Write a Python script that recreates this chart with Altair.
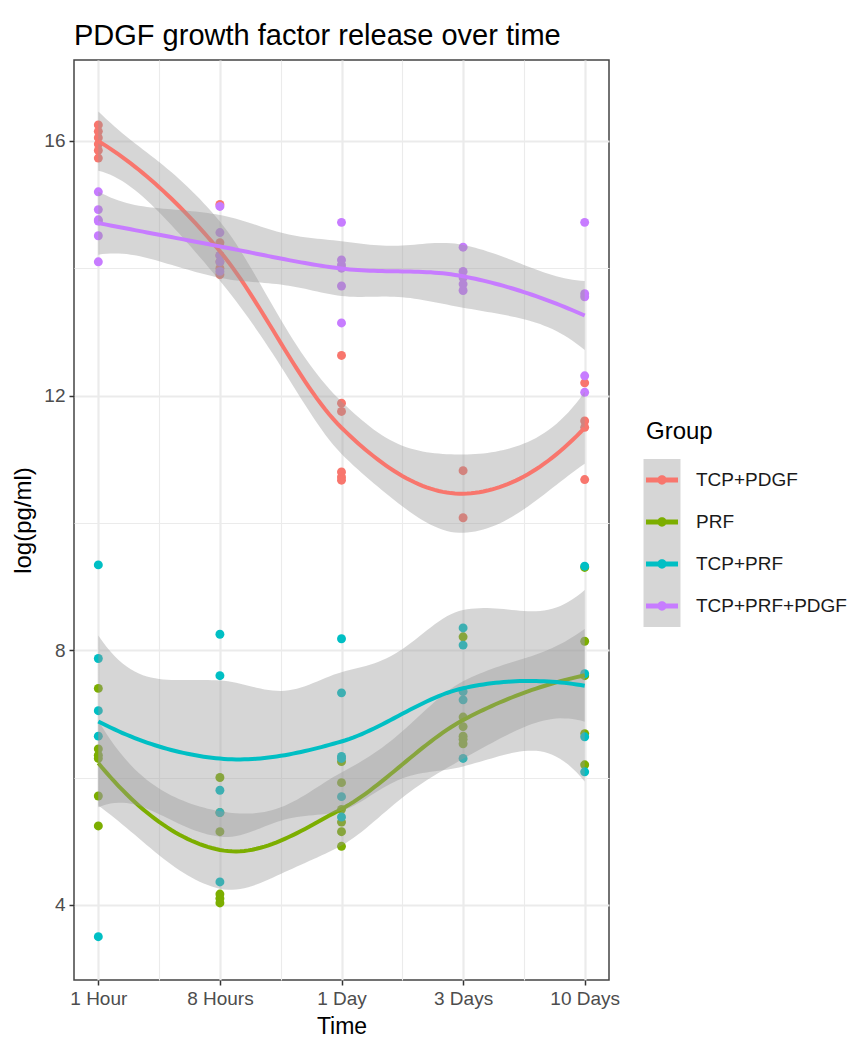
import numpy as np
import pandas as pd
import altair as alt

# ---------------- data ----------------
time_labels = ["1 Hour", "8 Hours", "1 Day", "3 Days", "10 Days"]
time_codes = [1, 2, 3, 4, 5]
groups = ["TCP+PDGF", "PRF", "TCP+PRF", "TCP+PRF+PDGF"]
key_ids = ["k1", "k2", "k3", "k4"]
colors = ["#F8766D", "#7CAE00", "#00BFC4", "#C77CFF"]

tcp_pdgf = [
    [16.25, 16.15, 16.05, 15.95, 15.85, 15.73],
    [15.0, 14.4, 14.2, 14.1, 14.0, 13.9],
    [12.63, 11.88, 11.75, 10.8, 10.72, 10.67],
    [10.82, 10.08],
    [12.2, 11.6, 11.5, 10.68],
]
prf = [
    [7.4, 6.45, 6.35, 6.3, 5.71, 5.24],
    [6.0, 5.45, 5.15, 4.17, 4.1, 4.03],
    [6.25, 5.92, 5.5, 5.3, 5.15, 4.92],
    [8.21, 6.95, 6.8, 6.65, 6.6, 6.53],
    [9.3, 8.14, 7.6, 6.69, 6.2],
]
tcp_prf = [
    [9.34, 7.87, 7.05, 6.65, 3.5],
    [8.25, 7.6, 5.8, 5.45, 4.36],
    [8.18, 7.33, 6.33, 6.3, 5.7, 5.38],
    [8.35, 8.08, 7.35, 7.22, 6.3],
    [9.32, 7.63, 6.64, 6.09],
]
tcp_prf_pdgf = [
    [15.2, 14.92, 14.76, 14.74, 14.51, 14.1],
    [14.97, 14.56, 14.2, 14.1, 13.95],
    [14.72, 14.13, 14.05, 14.0, 13.72, 13.14],
    [14.33, 13.95, 13.85, 13.75, 13.65],
    [14.72, 13.6, 13.55, 12.31, 12.05],
]
series = [tcp_pdgf, prf, tcp_prf, tcp_prf_pdgf]

FONT = "Liberation Sans"


# ---------------- loess smoother (degree 2, span 0.75) with 95% CI ----------------
def t975(df):
    z = 1.959964
    g1 = (z**3 + z) / 4
    g2 = (5 * z**5 + 16 * z**3 + 3 * z) / 96
    g3 = (3 * z**7 + 19 * z**5 + 17 * z**3 - 15 * z) / 384
    return z + g1 / df + g2 / df**2 + g3 / df**3


def loess_band(xv, yv, verts, grid, span=0.75):
    xv = np.asarray(xv, float)
    yv = np.asarray(yv, float)
    n = len(xv)
    q = int(np.floor(n * span))

    def lrows(x0):
        d = np.abs(xv - x0)
        h = max(np.sort(d)[q - 1], 1e-9) * 1.1
        w = np.clip(1 - (d / h) ** 3, 0, None) ** 3
        t = xv - x0
        X = np.column_stack([np.ones(n), t, t * t])
        A = X.T @ (w[:, None] * X)
        B = X.T * w
        coef = np.linalg.pinv(A) @ B
        return coef[0], coef[1]

    verts = np.asarray(verts, float)
    V = [lrows(v) for v in verts]

    def interp_row(x):
        k = int(np.clip(np.searchsorted(verts, x, side="right") - 1, 0, len(verts) - 2))
        x0, x1 = verts[k], verts[k + 1]
        dx = x1 - x0
        s = (x - x0) / dx
        h00 = 2 * s**3 - 3 * s**2 + 1
        h10 = s**3 - 2 * s**2 + s
        h01 = -2 * s**3 + 3 * s**2
        h11 = s**3 - s**2
        return h00 * V[k][0] + h10 * dx * V[k][1] + h01 * V[k + 1][0] + h11 * dx * V[k + 1][1]

    Ld = np.array([interp_row(x) for x in xv])
    res = yv - Ld @ yv
    M = np.eye(n) - Ld
    C = M.T @ M
    d1 = np.trace(C)
    d2 = np.trace(C @ C)
    sig = np.sqrt(res @ res / d1)
    tq = t975(d1 * d1 / d2)
    Lg = np.array([interp_row(x) for x in grid])
    fit = Lg @ yv
    se = sig * np.sqrt((Lg**2).sum(axis=1))
    return fit, fit - tq * se, fit + tq * se


pt_rows = []
fit_rows = []
grid = np.linspace(1, 5, 121)
for g, kid, ser in zip(groups, key_ids, series):
    xs, ys = [], []
    for tc, vals in zip(time_codes, ser):
        for v in vals:
            pt_rows.append({"Group": g, "t": tc, "value": v})
            xs.append(tc)
            ys.append(v)
    fit, lo, hi = loess_band(xs, ys, time_codes, grid)
    for gx, f, l, h in zip(grid, fit, lo, hi):
        fit_rows.append({"Group": g, "Key": kid, "t": float(gx), "fit": float(f),
                         "lo": float(l), "hi": float(h)})

pts = pd.DataFrame(pt_rows)
fits = pd.DataFrame(fit_rows)

# ---------------- axes ----------------
lab_arr = "[" + ",".join("'" + s + "'" for s in time_labels) + "]"
x_axis = alt.Axis(
    values=[1, 1.5, 2, 2.5, 3, 3.5, 4, 4.5, 5],
    title="Time",
    labelExpr="datum.value % 1 == 0 ? " + lab_arr + "[datum.value - 1] : ''",
    labelOverlap=False,
    labelFlush=False,
    gridWidth={"condition": {"test": "datum.value % 1 != 0", "value": 1.1}, "value": 2.2},
    tickOpacity={"condition": {"test": "datum.value % 1 != 0", "value": 0}, "value": 1},
    labelPadding=4,
    titlePadding=7,
    titleFontSize=23,
)
y_axis = alt.Axis(
    values=[4, 6, 8, 10, 12, 14, 16],
    title="log(pg/ml)",
    labelExpr="datum.value % 4 == 0 ? format(datum.value, 'd') : ''",
    labelOverlap=False,
    labelFlush=False,
    gridWidth={"condition": {"test": "datum.value % 4 != 0", "value": 1.1}, "value": 2.2},
    tickOpacity={"condition": {"test": "datum.value % 4 != 0", "value": 0}, "value": 1},
    labelPadding=4,
    titlePadding=8,
    titleFontSize=24,
)

xsc = alt.Scale(domain=[0.8, 5.2], nice=False, zero=False)
ysc = alt.Scale(domain=[2.82, 17.27], nice=False, zero=False)

leg_path = ("M-1,-0.15L1,-0.15L1,0.15L-1,0.15Z "
            "M0.29,0A0.29,0.29 0 1,1 -0.29,0A0.29,0.29 0 1,1 0.29,0Z")

points = alt.Chart(pts).mark_circle(size=80, opacity=1).encode(
    x=alt.X("t:Q", scale=xsc, axis=x_axis),
    y=alt.Y("value:Q", scale=ysc, axis=y_axis),
    color=alt.Color(
        "Group:N",
        scale=alt.Scale(domain=groups, range=colors),
        legend=alt.Legend(
            title="Group", orient="none", legendX=572, legendY=360,
            titleFontSize=24, titleFont=FONT, titleFontWeight="normal", titleColor="#000000",
            titlePadding=20, labelFontSize=19, labelFont=FONT, labelColor="#1a1a1a",
            symbolType=leg_path, symbolSize=1024, symbolStrokeWidth=0, symbolOpacity=1,
            rowPadding=16, labelOffset=18, zindex=1,
        ),
    ),
)

rect_path = "M-0.88,-1L0.88,-1L0.88,1L-0.88,1Z"
layers = [points]
for g, c in zip(groups, colors):
    band = alt.Chart(fits).transform_filter(alt.datum.Group == g).mark_area(opacity=0.4).encode(
        x=alt.X("t:Q", scale=xsc, title="Time"),
        y=alt.Y("lo:Q", scale=ysc, title="log(pg/ml)"),
        y2="hi:Q",
        fill=alt.Fill(
            "Key:N",
            scale=alt.Scale(domain=key_ids, range=["#999999"] * 4),
            legend=alt.Legend(
                title=None, orient="none", legendX=567, legendY=399,
                labelExpr="''", labelFontSize=19, labelFont=FONT,
                symbolType=rect_path, symbolSize=1764, symbolStrokeWidth=0,
                symbolOpacity=0.4, rowPadding=0, zindex=0,
            ),
        ),
    )
    line = alt.Chart(fits).transform_filter(alt.datum.Group == g).mark_line(
        strokeWidth=4, color=c
    ).encode(
        x=alt.X("t:Q", scale=xsc, title="Time"),
        y=alt.Y("fit:Q", scale=ysc, title="log(pg/ml)"),
    )
    layers += [band, line]

chart = alt.layer(*layers).properties(
    width=535,
    height=920,
    padding={"left": 66, "top": 52, "right": 246, "bottom": 67},
    autosize=alt.AutoSizeParams(type="none"),
    background="white",
    title=alt.TitleParams(
        "PDGF growth factor release over time", anchor="start", frame="group",
        fontSize=29, font=FONT, fontWeight="normal", color="#000000", offset=9,
    ),
).configure_view(
    stroke="#444444", strokeWidth=1.5
).configure_axis(
    gridColor="#ebebeb", tickColor="#333333", tickSize=5, tickWidth=1.5,
    labelColor="#4d4d4d", labelFontSize=19, labelFont=FONT,
    titleFont=FONT, titleFontSize=22, titleFontWeight="normal", titleColor="#000000",
    domain=False,
)

chart.save("out.html", embed_options={"renderer": "svg", "actions": False})
